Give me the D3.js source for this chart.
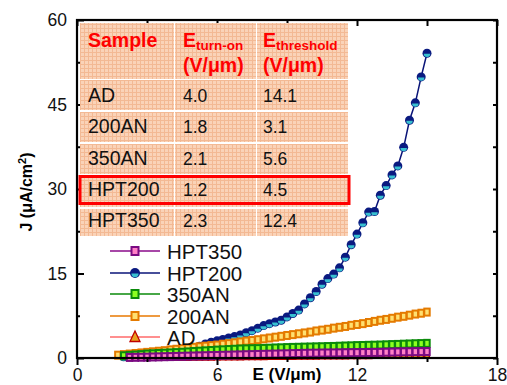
<!DOCTYPE html>
<html><head><meta charset="utf-8">
<script src="https://cdn.jsdelivr.net/npm/d3@7"></script>
<style>html,body{margin:0;padding:0;background:#fff;}svg{display:block;font-family:"Liberation Sans",Arial,sans-serif;}</style>
</head><body>
<svg id="c" width="507" height="385"></svg>
<script>
// ---- data ----
const eField = [1.25,1.5,1.75,2,2.25,2.5,2.75,3,3.25,3.5,3.75,4,4.25,4.5,4.75,5,5.25,5.5,5.75,6,6.25,6.5,6.75,7,7.25,7.5,7.75,8,8.25,8.5,8.75,9,9.25,9.5,9.75,10,10.25,10.5,10.75,11,11.25,11.5,11.75,12,12.25,12.5,12.75,13,13.25,13.5,13.75,14,14.25,14.5,14.75,15];
const jHPT200 = [null,null,null,0.2,0.3,0.4,0.5,0.6,0.7,0.85,1.0,1.15,1.3,1.45,1.65,1.85,2.1,2.5,2.8,3.05,3.3,3.55,3.8,4.1,4.5,4.85,5.3,5.75,6.1,6.4,6.7,7.3,7.9,8.5,9.6,10.7,11.8,13.1,14.1,14.9,16.0,17.9,20.1,22.0,24.0,25.9,26.0,28.9,30.6,32.5,34.1,37.4,42.2,45.3,49.9,54.1];
const j200AN = [null,null,0.5,0.6,0.7,0.8,0.9,1.0,1.1,1.2,1.3,1.45,1.55,1.65,1.75,1.9,2.0,2.1,2.2,2.3,2.45,2.55,2.7,2.85,3.0,3.1,3.25,3.4,3.55,3.7,3.85,4.0,4.15,4.3,4.45,4.6,4.8,4.95,5.1,5.3,5.45,5.6,5.8,5.95,6.1,6.3,6.5,6.7,6.85,7.05,7.25,7.4,7.6,7.8,7.95,8.15];
const j350AN = [null,null,null,0.40,0.47,0.53,0.60,0.70,0.75,0.80,0.85,0.90,0.96,1.02,1.08,1.15,1.21,1.27,1.33,1.40,1.45,1.50,1.55,1.60,1.62,1.65,1.67,1.70,1.74,1.78,1.81,1.85,1.88,1.90,1.93,1.95,1.98,2.00,2.03,2.05,2.09,2.13,2.16,2.20,2.22,2.25,2.27,2.30,2.34,2.38,2.41,2.45,2.49,2.53,2.56,2.60];
const jHPT350 = [null,null,null,null,0.10,0.12,0.13,0.15,0.18,0.20,0.23,0.25,0.28,0.30,0.33,0.35,0.38,0.40,0.43,0.45,0.48,0.50,0.53,0.55,0.58,0.60,0.63,0.65,0.68,0.70,0.73,0.75,0.78,0.80,0.83,0.85,0.86,0.88,0.89,0.90,0.91,0.93,0.94,0.95,0.96,0.98,0.99,1.00,1.03,1.05,1.08,1.10,1.11,1.13,1.14,1.15];
const jAD = [null,null,null,null,null,null,null,null,null,null,null,0.05,0.06,0.07,0.08,0.09,0.10,0.11,0.12,0.13,0.14,0.15,0.16,0.17,0.18,0.19,0.20,0.21,0.22,0.23,0.24,0.25,0.26,0.27,0.28,0.29,0.30,0.31,0.32,0.33,0.34,0.35,0.36,0.37,0.38,0.39,0.40,0.41,0.42,0.43,0.44,0.45,0.46,0.47,0.48,0.49];
const xTicksMajor = [0,6,12,18];
const xTicksMinor = [3,9,15];
const yTicksMajor = [0,15,30,45,60];
const yTicksMinor = [7.5,22.5,37.5,52.5];
const legendNames = ["HPT350","HPT200","350AN","200AN","AD"];
const tableHeader = ["Sample","turn-on","threshold"];
const tableSamples = ["AD","200AN","350AN","HPT200","HPT350"];
const tableTurnOn = ["4.0","1.8","2.1","1.2","2.3"];
const tableThreshold = ["14.1","3.1","5.6","4.5","12.4"];

// ---- styles ----
const styles = {
  HPT350:{line:"#8a0a8a", stroke:"#7a0a82", fill:"#ff7fc6", marker:"square"},
  HPT200:{line:"#0a1478", stroke:"#0a1a80", fill:"#38c0d0", marker:"circle"},
  "350AN":{line:"#0a8a0a", stroke:"#0a8a0a", fill:"#8cff20", marker:"square"},
  "200AN":{line:"#e87800", stroke:"#e47a00", fill:"#ffe070", marker:"square"},
  AD:{line:"#ff6a6a", stroke:"#c00000", fill:"#e8a020", marker:"triangle"}
};
const seriesData = {HPT350:jHPT350, HPT200:jHPT200, "350AN":j350AN, "200AN":j200AN, AD:jAD};

const svg = d3.select("#c");
const x = d3.scaleLinear().domain([0,18]).range([77,497]);
const y = d3.scaleLinear().domain([0,60]).range([358,20]);

const defs = svg.append("defs");
const pat = defs.append("pattern").attr("id","grid").attr("patternUnits","userSpaceOnUse").attr("width",4).attr("height",4);
pat.append("rect").attr("width",4).attr("height",4).attr("fill","#fad3b8");
pat.append("rect").attr("width",4).attr("height",1).attr("fill","#f3b994");
pat.append("rect").attr("width",1).attr("height",4).attr("fill","#f3b994");

function drawMarker(g, type, st, cx, cy, w, h) {
  if (type === "square") {
    g.append("rect").attr("x",cx-w/2).attr("y",cy-h/2).attr("width",w).attr("height",h)
      .attr("fill",st.fill).attr("stroke",st.stroke).attr("stroke-width",2);
  } else if (type === "circle") {
    const r = w/2;
    g.append("circle").attr("cx",cx).attr("cy",cy).attr("r",r).attr("fill",st.stroke);
    const ri = r*0.72;
    g.append("path").attr("d",`M${cx-ri},${cy+0.6} A${ri},${ri} 0 0 0 ${cx+ri},${cy+0.6} Z`).attr("fill",st.fill);
  } else {
    g.append("path").attr("d",`M${cx},${cy-h*0.6} L${cx+w/2},${cy+h*0.45} L${cx-w/2},${cy+h*0.45} Z`)
      .attr("fill",st.fill).attr("stroke",st.stroke).attr("stroke-width",1.3);
  }
}

const order = ["HPT200","AD","200AN","350AN","HPT350"];
const plotG = svg.append("g");
order.forEach(name => {
  const st = styles[name];
  const pts = eField.map((e,i)=>({e, j: seriesData[name][i]})).filter(d=>d.j!=null);
  const line = d3.line().x(d=>x(d.e)).y(d=>y(d.j));
  const g = plotG.append("g");
  g.append("path").attr("d",line(pts)).attr("fill","none").attr("stroke",st.line).attr("stroke-width",1.5);
  pts.forEach(d => {
    if (st.marker==="circle") drawMarker(g, st.marker, st, x(d.e), y(d.j), 9, 9);
    else if (st.marker==="triangle") drawMarker(g, st.marker, st, x(d.e), y(d.j), 6, 6);
    else drawMarker(g, st.marker, st, x(d.e), y(d.j), 5.4, 7);
  });
});

const bMaj = svg.append("g").attr("transform","translate(0,358)")
  .call(d3.axisBottom(x).tickValues(xTicksMajor).tickSize(7).tickSizeOuter(0).tickPadding(4).tickFormat(d3.format("d")));
const bMin = svg.append("g").attr("transform","translate(0,358)")
  .call(d3.axisBottom(x).tickValues(xTicksMinor).tickSize(4).tickSizeOuter(0).tickFormat(""));
const lMaj = svg.append("g").attr("transform","translate(77,0)")
  .call(d3.axisLeft(y).tickValues(yTicksMajor).tickSize(-7).tickSizeOuter(0).tickPadding(10).tickFormat(d3.format("d")));
const lMin = svg.append("g").attr("transform","translate(77,0)")
  .call(d3.axisLeft(y).tickValues(yTicksMinor).tickSize(-3).tickSizeOuter(0).tickFormat(""));
const tMaj = svg.append("g").attr("transform","translate(0,20)")
  .call(d3.axisTop(x).tickValues(xTicksMajor.concat(xTicksMinor)).tickSize(-6).tickSizeOuter(0).tickFormat(""));
const rMaj = svg.append("g").attr("transform","translate(497,0)")
  .call(d3.axisRight(y).tickValues(yTicksMajor.concat(yTicksMinor)).tickSize(-4).tickSizeOuter(0).tickFormat(""));
[bMaj,bMin,lMaj,lMin,tMaj,rMaj].forEach(a=>{
  a.select(".domain").remove();
  a.selectAll(".tick line").attr("stroke","#000").attr("stroke-width",2);
  a.selectAll(".tick text").attr("font-size",17.5).attr("font-family","'Liberation Sans',Arial,sans-serif").attr("fill","#111");
});
bMaj.selectAll(".tick text").attr("dy","0.71em");
svg.append("rect").attr("x",77).attr("y",20).attr("width",420).attr("height",338)
  .attr("fill","none").attr("stroke","#000").attr("stroke-width",2.2);

svg.append("text").attr("x",287).attr("y",380).attr("text-anchor","middle")
  .attr("font-size",17).attr("font-weight","bold").text("E (V/μm)");
const yt = svg.append("text").attr("transform","translate(32,192) rotate(-90)").attr("text-anchor","middle")
  .attr("font-size",16).attr("font-weight","bold");
yt.append("tspan").text("J (μA/cm");
yt.append("tspan").attr("font-size",11).attr("dy",-6).text("2");
yt.append("tspan").attr("dy",6).text(")");

const colX = [80,174,256,348];
const rowY = [23,79,111,143,175,208,237];
const tG = svg.append("g");
for (let r=0;r<6;r++){
  for (let c=0;c<3;c++){
    tG.append("rect").attr("x",colX[c]+(c>0?1:0)).attr("y",rowY[r]+(r>0?1:0))
      .attr("width",colX[c+1]-colX[c]-(c>0?1:0)).attr("height",rowY[r+1]-rowY[r]-(r>0?2:0))
      .attr("fill","url(#grid)");
  }
}
const txX = [88,183,263];
tG.append("text").attr("x",txX[0]).attr("y",47).attr("fill","#ff0000").attr("font-weight","bold").attr("font-size",19.5).text(tableHeader[0]);
[1,2].forEach(c=>{
  const t = tG.append("text").attr("x",txX[c]).attr("y",47).attr("fill","#ff0000").attr("font-weight","bold").attr("font-size",19.5);
  t.append("tspan").text("E");
  t.append("tspan").attr("font-size",13.5).attr("dy",3).text(tableHeader[c]);
  tG.append("text").attr("x",txX[c]).attr("y",72).attr("fill","#ff0000").attr("font-weight","bold").attr("font-size",19.5).text("(V/μm)");
});
const rowBase = [102,133,165,196,227];
tableSamples.forEach((s,i)=>{
  tG.append("text").attr("x",txX[0]).attr("y",rowBase[i]).attr("font-size",19.5).attr("fill","#111").text(s);
  tG.append("text").attr("x",txX[1]).attr("y",rowBase[i]).attr("font-size",17.5).attr("fill","#111").text(tableTurnOn[i]);
  tG.append("text").attr("x",txX[2]).attr("y",rowBase[i]).attr("font-size",17.5).attr("fill","#111").text(tableThreshold[i]);
});
tG.append("rect").attr("x",80).attr("y",176.5).attr("width",269).attr("height",27)
  .attr("fill","none").attr("stroke","#ff0000").attr("stroke-width",3);

const legY = [251,273,294,316,337];
const lgG = svg.append("g");
legendNames.forEach((n,i)=>{
  const st = styles[n];
  lgG.append("line").attr("x1",110).attr("x2",160).attr("y1",legY[i]).attr("y2",legY[i]).attr("stroke",st.line).attr("stroke-width",1.6);
  if (st.marker==="circle") drawMarker(lgG, st.marker, st, 135, legY[i], 10, 10);
  else if (st.marker==="triangle") drawMarker(lgG, st.marker, st, 135, legY[i], 10, 10);
  else drawMarker(lgG, st.marker, st, 135, legY[i], 7, 8);
  lgG.append("text").attr("x",167).attr("y",legY[i]+7.5).attr("font-size",20.5).attr("fill","#111").text(n);
});
</script>
</body></html>
